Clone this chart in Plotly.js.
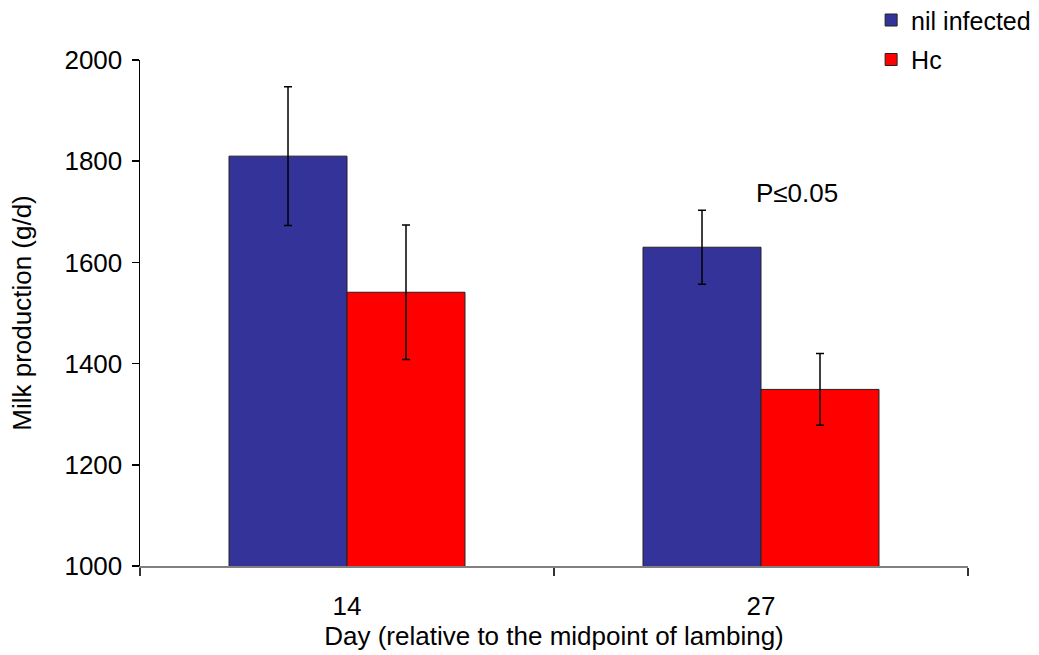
<!DOCTYPE html>
<html>
<head>
<meta charset="utf-8">
<script src="https://cdn.plot.ly/plotly-3.0.1.min.js"></script>
<style>html,body{margin:0;padding:0;background:#fff;}#chart{width:1039px;height:655px;}</style>
</head>
<body>
<div id="chart"></div>
<script>
const categories = ["14", "27"];
const seriesNames = ["nil infected", "Hc"];
const nilInfected = [1810, 1630];
const nilInfectedErr = [137, 73];
const hc = [1541, 1349];
const hcErr = [133, 71];
const yTicks = [1000, 1200, 1400, 1600, 1800, 2000];
const annotationText = "P≤0.05";
const annotationCategory = "27";
const annotationY = 1737;

const FONT = "Liberation Sans, Arial, sans-serif";

const traces = [
  {
    type: "bar", name: seriesNames[0], legendgroup: "g1", x: categories, y: nilInfected,
    marker: {color: "#333399", line: {color: "#222222", width: 1}},
    error_y: {type: "data", array: nilInfectedErr, visible: true, color: "#000000", thickness: 1.5, width: 4}
  },
  {
    type: "bar", name: seriesNames[1], legendgroup: "g2", x: categories, y: hc,
    marker: {color: "#FF0000", line: {color: "#222222", width: 1}},
    error_y: {type: "data", array: hcErr, visible: true, color: "#000000", thickness: 1.5, width: 4}
  }
];

const layout = {
  width: 1039, height: 655,
  margin: {l: 140, r: 71, t: 60, b: 89, pad: 0, autoexpand: false},
  paper_bgcolor: "#ffffff", plot_bgcolor: "#ffffff",
  font: {family: FONT, size: 26, color: "#000000"},
  barmode: "group", bargap: 0.43, bargroupgap: 0,
  showlegend: true,
  legend: {
    x: 0.883, xanchor: "left", y: 1.124, yanchor: "top",
    traceorder: "grouped", tracegroupgap: 4,
    font: {family: FONT, size: 25, color: "#000000"},
    bgcolor: "rgba(0,0,0,0)", borderwidth: 0
  },
  xaxis: {
    type: "category", range: [-0.5, 1.5], automargin: false,
    showline: true, linecolor: "#808080", linewidth: 1.5,
    ticks: "outside", tickson: "boundaries", ticklen: 8, tickcolor: "#333333", tickwidth: 1.5,
    ticklabelstandoff: 16,
    showgrid: false, zeroline: false,
    tickfont: {family: FONT, size: 26, color: "#000000"},
    title: {text: "Day (relative to the midpoint of lambing)", font: {family: FONT, size: 26, color: "#000000"}, standoff: 6}
  },
  yaxis: {
    range: [1000, 2000], tickvals: yTicks, ticktext: yTicks.map(String), automargin: false,
    showline: true, linecolor: "#000000", linewidth: 1.5,
    ticks: "outside", ticklen: 7, tickcolor: "#000000", tickwidth: 1.5,
    ticklabelstandoff: 4,
    showgrid: false, zeroline: false,
    tickfont: {family: FONT, size: 26, color: "#000000"},
    title: {text: "Milk production (g/d)", font: {family: FONT, size: 26, color: "#000000"}, standoff: 25}
  },
  annotations: [
    {x: categories.indexOf(annotationCategory), xref: "x", xshift: 36, y: annotationY, yref: "y",
     text: annotationText, showarrow: false,
     font: {family: FONT, size: 26, color: "#000000"}}
  ]
};

Plotly.newPlot("chart", traces, layout, {displayModeBar: false, staticPlot: true});
</script>
</body>
</html>
